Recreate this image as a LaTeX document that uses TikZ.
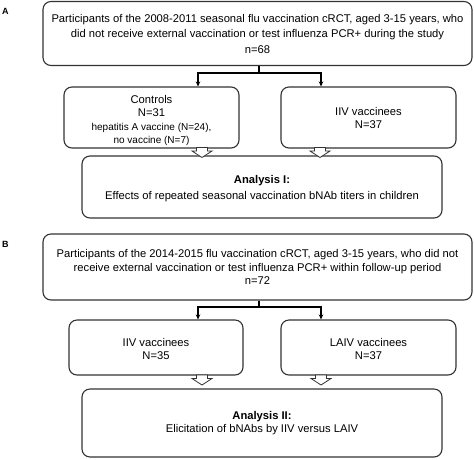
\documentclass[tikz,border=0pt]{standalone}
\usepackage{fontspec}
\setmainfont{Liberation Sans}
\usetikzlibrary{arrows.meta}
\definecolor{ln}{HTML}{333333}
\begin{document}
\begin{tikzpicture}[x=1pt,y=-1pt,
  box/.style={draw=ln,line width=1.1pt,rounded corners=8pt,inner sep=0pt,align=center,font=\fontsize{11.2}{15.5}\selectfont,text=black},
  conn/.style={draw=black,line width=1.1pt,-{Stealth[length=5pt,width=4.5pt]}},
  hollow/.style={draw=ln,line width=0.8pt,fill=white},
  lab/.style={font=\bfseries\fontsize{9}{10}\selectfont,anchor=west,inner sep=0pt},
  hollowarrow/.pic={\draw[hollow] (-5.5,0) -- (-5.5,3.5) -- (-10,3.5) -- (0,10) -- (10,3.5) -- (5.5,3.5) -- (5.5,0) -- cycle;}]
\useasboundingbox (0,0) rectangle (474,459);
\node[lab] (la) at (2,11) {A};
\node[lab] (lb) at (2,244) {B};
% Panel A
\node[box,minimum width=429pt,minimum height=64pt] (topA) at (257.5,33.5) {Participants of the 2008-2011 seasonal flu vaccination cRCT, aged 3-15 years, who\\ did not receive external vaccination or test influenza PCR+ during the study\\ n=68};
\node[box,minimum width=175pt,minimum height=61pt,font=\fontsize{11.2}{13.2}\selectfont] (ctrl) at (151.5,117.5) {\rule{0pt}{14pt}Controls\\ N=31\\ {\fontsize{10}{13}\selectfont hepatitis A vaccine (N=24),}\\ {\fontsize{10}{13}\selectfont no vaccine (N=7)}};
\node[box,minimum width=175pt,minimum height=61pt,font=\fontsize{11.2}{13}\selectfont] (iivA) at (368.5,117.5) {IIV vaccinees\\ N=37};
\node[box,minimum width=360pt,minimum height=62pt] (anA) at (262,187) {\rule{0pt}{11pt}\textbf{Analysis I:}\\ Effects of repeated seasonal vaccination bNAb titers in children};
\coordinate (jA) at (259,73);
\draw[line width=1.1pt] (topA.south -| jA) -- (jA);
\draw[conn] (jA) -| ([xshift=46.5pt]ctrl.north);
\draw[conn] (jA) -| ([xshift=-47.5pt]iivA.north);
\pic at (202,147.5) {hollowarrow};
\pic at (320,147.5) {hollowarrow};
% Panel B
\node[box,minimum width=429pt,minimum height=66pt,font=\fontsize{11.2}{13.5}\selectfont] (topB) at (257.5,267) {Participants of the 2014-2015 flu vaccination cRCT, aged 3-15 years, who did not\\ receive external vaccination or test influenza PCR+ within follow-up period\\ n=72};
\node[box,minimum width=174pt,minimum height=55pt,font=\fontsize{11.2}{13}\selectfont] (iivB) at (156,347.5) {\rule{0pt}{12pt}IIV vaccinees\\ N=35};
\node[box,minimum width=175pt,minimum height=55pt,font=\fontsize{11.2}{13}\selectfont] (laiv) at (368.5,347.5) {\rule{0pt}{12pt}LAIV vaccinees\\ N=37};
\node[box,minimum width=360pt,minimum height=68pt,font=\fontsize{11.2}{13}\selectfont] (anB) at (262,423) {\textbf{Analysis II:}\\ Elicitation of bNAbs by IIV versus LAIV};
\coordinate (jB) at (259,307);
\draw[line width=1.1pt] (topB.south -| jB) -- (jB);
\draw[conn] (jB) -| ([xshift=42pt]iivB.north);
\draw[conn] (jB) -| ([xshift=-47.5pt]laiv.north);
\pic at (202,375) {hollowarrow};
\pic at (321,375) {hollowarrow};
\end{tikzpicture}
\end{document}
